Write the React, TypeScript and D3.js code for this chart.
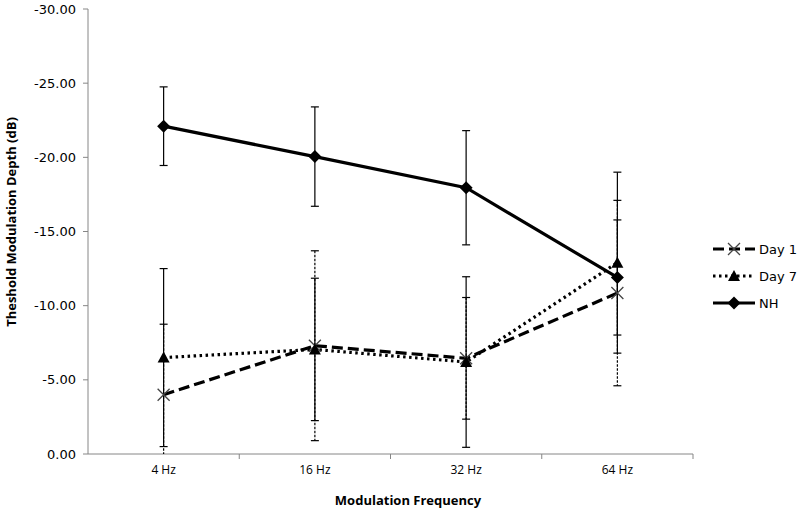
import React from "react";
import * as d3 from "d3";

const categories = ["4 Hz", "16 Hz", "32 Hz", "64 Hz"];
const day1Values = [-4.0, -7.3, -6.45, -10.85];
const day1Errors = [4.75, 6.4, 4.1, 6.25];
const day7Values = [-6.5, -7.05, -6.2, -12.9];
const day7Errors = [6.0, 4.8, 5.75, 6.1];
const nhValues = [-22.1, -20.05, -17.95, -11.9];
const nhErrors = [2.65, 3.35, 3.85, 3.88];
const yTicks = [0, -5, -10, -15, -20, -25, -30];

const seriesNames = ["Day 1", "Day 7", "NH"];

const W = 800;
const H = 515;
const left = 88;
const right = 693;
const top = 9;
const bottom = 454;

export default function App() {
  const x = d3.scaleBand<string>().domain(categories).range([left, right]).padding(0);
  const y = d3.scaleLinear().domain([0, -30]).range([bottom, top]);
  const cx = (c: string) => (x(c) as number) + x.bandwidth() / 2;
  const line = d3
    .line<[string, number]>()
    .x((d) => cx(d[0]))
    .y((d) => y(d[1]));

  const series = [
    { name: seriesNames[0], values: day1Values, errors: day1Errors, dash: "11,5", errDash: "2.5,1.5", marker: "x" },
    { name: seriesNames[1], values: day7Values, errors: day7Errors, dash: "2.5,3.5", errDash: "", marker: "tri" },
    { name: seriesNames[2], values: nhValues, errors: nhErrors, dash: "", errDash: "", marker: "dia" },
  ];

  const clampY = (v: number) => Math.max(top, Math.min(bottom, y(v)));

  const marker = (kind: string, px: number, py: number, key: string) => {
    if (kind === "x") {
      const s = 6;
      return (
        <path
          key={key}
          d={`M${px - s},${py - s}L${px + s},${py + s}M${px - s},${py + s}L${px + s},${py - s}`}
          stroke="#444"
          strokeWidth={1.3}
          fill="none"
        />
      );
    }
    if (kind === "tri") {
      const s = 6;
      return (
        <path
          key={key}
          d={`M${px},${py - s}L${px + s},${py + s - 1}L${px - s},${py + s - 1}Z`}
          fill="#000"
        />
      );
    }
    const s = 6.5;
    return <path key={key} d={`M${px},${py - s}L${px + s},${py}L${px},${py + s}L${px - s},${py}Z`} fill="#000" />;
  };

  return (
    <svg width={W} height={H} style={{ position: "absolute", left: 0, top: 0, background: "#fff" }}>
      <rect width={W} height={H} fill="#fff" />
      {/* Y axis */}
      <line x1={left} x2={left} y1={top} y2={bottom} stroke="#868686" strokeWidth={1} />
      {yTicks.map((t) => (
        <g key={t}>
          <line x1={left - 5} x2={left} y1={y(t)} y2={y(t)} stroke="#868686" />
          <text
            x={left - 12}
            y={y(t)}
            dy="0.35em"
            textAnchor="end"
            fontFamily="DejaVu Sans"
            fontSize={13}
            fill="#000"
          >
            {t.toFixed(2)}
          </text>
        </g>
      ))}
      {/* X axis */}
      <line x1={left} x2={right} y1={bottom} y2={bottom} stroke="#868686" strokeWidth={1} />
      {categories.map((c, i) => (
        <g key={c}>
          {i > 0 && <line x1={x(c)} x2={x(c)} y1={bottom} y2={bottom + 5} stroke="#868686" />}
          <text
            x={cx(c)}
            y={bottom + 20}
            textAnchor="middle"
            fontFamily="Open Sans"
            fontSize={12}
            fill="#000"
          >
            {c}
          </text>
        </g>
      ))}
      <line x1={right} x2={right} y1={bottom} y2={bottom + 5} stroke="#868686" />

      {/* Error bars */}
      {series.map((s) =>
        s.values.map((v, i) => {
          const px = cx(categories[i]);
          const hi = v - s.errors[i];
          const lo = v + s.errors[i];
          const yHi = clampY(hi);
          const yLo = clampY(lo);
          return (
            <g key={s.name + i}>
              <line
                x1={px}
                x2={px}
                y1={yHi}
                y2={yLo}
                stroke="#000"
                strokeWidth={1.2}
                strokeDasharray={s.errDash || undefined}
              />
              {lo <= 0 && <line x1={px - 4} x2={px + 4} y1={y(lo)} y2={y(lo)} stroke="#000" strokeWidth={1.2} />}
              {hi >= -30 && <line x1={px - 4} x2={px + 4} y1={y(hi)} y2={y(hi)} stroke="#000" strokeWidth={1.2} />}
            </g>
          );
        })
      )}

      {/* Lines */}
      {series.map((s) => (
        <path
          key={s.name}
          d={line(categories.map((c, i) => [c, s.values[i]] as [string, number])) as string}
          fill="none"
          stroke="#000"
          strokeWidth={3.2}
          strokeDasharray={s.dash || undefined}
        />
      ))}
      {series.map((s) => s.values.map((v, i) => marker(s.marker, cx(categories[i]), y(v), s.name + "m" + i)))}

      {/* Legend */}
      {series.map((s, i) => {
        const ly = 249 + i * 27;
        return (
          <g key={"lg" + s.name}>
            <line x1={713} x2={755} y1={ly} y2={ly} stroke="#000" strokeWidth={3.2} strokeDasharray={s.dash || undefined} />
            {marker(s.marker, 734, ly, "lgm" + i)}
            <text x={759} y={ly} dy="0.35em" fontFamily="DejaVu Sans" fontSize={13} fill="#000">
              {s.name}
            </text>
          </g>
        );
      })}

      {/* Axis titles */}
      <text
        x={408}
        y={505}
        textAnchor="middle"
        fontFamily="Open Sans"
        fontWeight="bold"
        fontSize={13}
        fill="#000"
      >
        Modulation Frequency
      </text>
      <text
        transform={`translate(16,222) rotate(-90)`}
        textAnchor="middle"
        fontFamily="Open Sans"
        fontWeight="bold"
        fontSize={13}
        fill="#000"
      >
        Theshold Modulation Depth (dB)
      </text>
    </svg>
  );
}
